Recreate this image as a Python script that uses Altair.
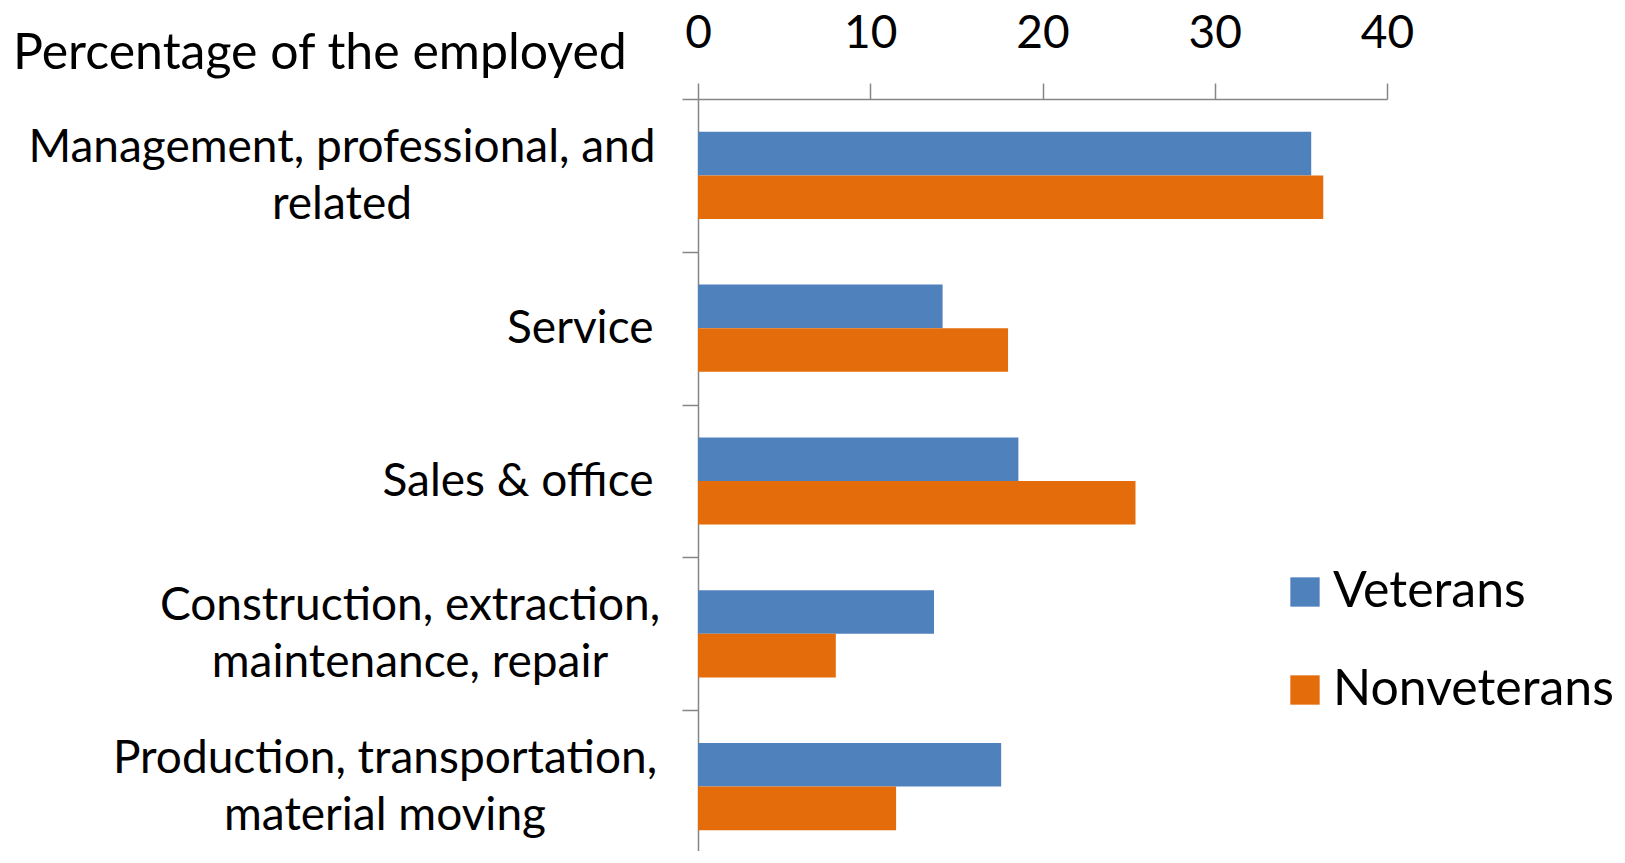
import altair as alt
import pandas as pd

categories = [
    "Management, professional, and\nrelated",
    "Service",
    "Sales & office",
    "Construction, extraction,\nmaintenance, repair",
    "Production, transportation,\nmaterial moving",
]
series = ["Veterans", "Nonveterans"]
veterans = [35.6, 14.2, 18.6, 13.7, 17.6]
nonveterans = [36.3, 18.0, 25.4, 8.0, 11.5]
x_ticks = [0, 10, 20, 30, 40]
title_text = "Percentage of the employed"

rows = []
for c, v, n in zip(categories, veterans, nonveterans):
    rows.append({"category": c, "group": "Veterans", "value": v})
    rows.append({"category": c, "group": "Nonveterans", "value": n})
df = pd.DataFrame(rows)

FONT = "Lato"
FS = 46
BIG = 50
LH = 57
GRAY = "#868686"

y_enc = alt.Y(
    "category:N",
    sort=categories,
    scale=alt.Scale(domain=categories, paddingInner=0, paddingOuter=0),
    axis=alt.Axis(
        title=None,
        domainColor=GRAY,
        domainWidth=1.5,
        tickColor=GRAY,
        tickWidth=1.5,
        tickSize=16,
        tickBand="extent",
        labelFont=FONT,
        labelFontSize=FS,
        labelColor="black",
        labelLimit=2000,
        labelPadding=29,
        labelExpr="indexof(datum.label, '\\n') >= 0 ? '' : datum.label",
    ),
)

bars = alt.Chart(df).mark_bar().encode(
    x=alt.X(
        "value:Q",
        scale=alt.Scale(domain=[0, 40], nice=False),
        axis=alt.Axis(
            orient="top",
            values=x_ticks,
            title=None,
            grid=False,
            domainColor=GRAY,
            domainWidth=1.5,
            tickColor=GRAY,
            tickWidth=1.5,
            tickSize=16,
            labelFont=FONT,
            labelFontSize=FS,
            labelColor="black",
            labelBaseline="alphabetic",
            labelPadding=36,
            labelFlush=False,
        ),
    ),
    y=y_enc,
    yOffset=alt.YOffset(
        "group:N",
        sort=series,
        scale=alt.Scale(domain=series, paddingInner=0, paddingOuter=0.753),
    ),
    color=alt.Color(
        "group:N",
        sort=series,
        scale=alt.Scale(domain=series, range=["#4F81BD", "#E46C0A"]),
        legend=alt.Legend(
            title=None,
            orient="none",
            legendX=582,
            legendY=468,
            symbolType="square",
            symbolSize=860,
            symbolStrokeWidth=0,
            symbolOpacity=1,
            labelFont=FONT,
            labelFontSize=BIG,
            labelColor="black",
            labelOffset=3,
            rowPadding=48,
            labelLimit=2000,
        ),
    ),
)

# wrapped (two-line) category labels, lines centred on each other as in the original
wrapped_centres = {
    categories[0]: -356,
    categories[3]: -288,
    categories[4]: -313,
}
label_layers = []
for cat, cx in wrapped_centres.items():
    label_layers.append(
        alt.Chart(pd.DataFrame({"category": [cat]})).mark_text(
            align="center",
            baseline="middle",
            font=FONT,
            fontSize=FS,
            color="black",
            lineBreak="\n",
            lineHeight=LH,
            dy=-LH / 2 + 1,
        ).encode(y=alt.Y("category:N", sort=categories), text="category:N", x=alt.value(cx))
    )

title = alt.Chart(pd.DataFrame({"t": [title_text]})).mark_text(
    align="left", baseline="alphabetic", font=FONT, fontSize=BIG, color="black"
).encode(text="t:N", x=alt.value(-685), y=alt.value(-30))

chart = alt.layer(bars, *label_layers, title).properties(
    width=689,
    height=764,
    padding={"left": 690, "top": 91, "right": 229, "bottom": -12},
    autosize=alt.AutoSizeParams(type="none"),
).configure_view(stroke=None)

chart.save("out.html", embed_options={"renderer": "svg", "actions": False})
